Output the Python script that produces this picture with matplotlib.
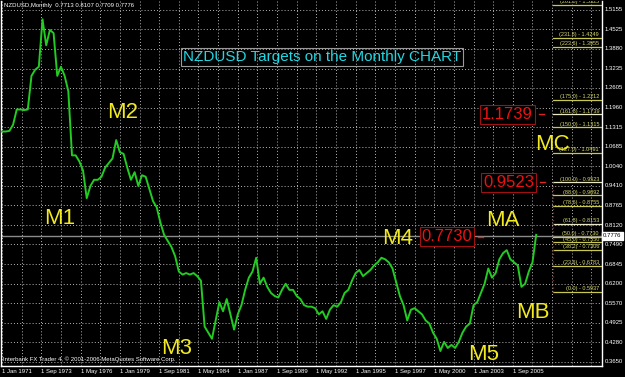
import matplotlib
matplotlib.use("Agg")
import matplotlib.pyplot as plt
import numpy as np
import pandas as pd

# ---------------- data (quarterly closes) ----------------
start_month = "1971-01-01"
close = [
    1.118, 1.118, 1.12, 1.14,      # 1971
    1.19, 1.19, 1.188, 1.19,       # 1972
    1.30, 1.32, 1.33, 1.485,       # 1973
    1.40, 1.45, 1.44, 1.30,        # 1974
    1.33, 1.30, 1.25, 1.04,        # 1975
    1.04, 1.02, 0.99, 0.90,        # 1976
    0.94, 0.96, 0.96, 0.97,        # 1977
    1.00, 1.015, 1.03, 1.09,       # 1978
    1.05, 1.045, 1.00, 0.96,       # 1979
    0.985, 0.94, 0.975, 0.97,      # 1980
    0.93, 0.89, 0.87, 0.82,        # 1981
    0.78, 0.76, 0.74, 0.71,        # 1982
    0.66, 0.65, 0.655, 0.65,       # 1983
    0.655, 0.645, 0.63, 0.48,      # 1984
    0.46, 0.44, 0.50, 0.56,        # 1985
    0.53, 0.57, 0.52, 0.47,        # 1986
    0.52, 0.55, 0.60, 0.64,        # 1987
    0.66, 0.705, 0.62, 0.64,       # 1988
    0.61, 0.59, 0.58, 0.575,       # 1989
    0.60, 0.62, 0.60, 0.60,        # 1990
    0.58, 0.57, 0.55, 0.545,       # 1991
    0.545, 0.54, 0.52, 0.53,       # 1992
    0.505, 0.535, 0.55, 0.545,     # 1993
    0.56, 0.59, 0.60, 0.63,        # 1994
    0.655, 0.665, 0.645, 0.655,    # 1995
    0.665, 0.68, 0.69, 0.705,      # 1996
    0.70, 0.69, 0.67, 0.625,       # 1997
    0.58, 0.55, 0.50, 0.535,       # 1998
    0.54, 0.53, 0.52, 0.50,        # 1999
    0.49, 0.46, 0.44, 0.40,        # 2000
    0.43, 0.41, 0.42, 0.41,        # 2001
    0.43, 0.46, 0.48, 0.49,        # 2002
    0.55, 0.56, 0.59, 0.62,        # 2003
    0.67, 0.64, 0.655, 0.70,       # 2004
    0.72, 0.73, 0.70, 0.69,        # 2005
    0.68, 0.61, 0.62, 0.66,        # 2006
    0.69, 0.78,                    # 2007
]

price_ticks = [1.5155, 1.4525, 1.3880, 1.3235, 1.2605, 1.1960, 1.1315, 1.0685,
               1.0040, 0.9410, 0.8765, 0.8120, 0.7490, 0.6845, 0.6200, 0.5570,
               0.4925, 0.4280, 0.3650]
time_labels = ["1 Jan 1971", "1 Sep 1973", "1 May 1976", "1 Jan 1979", "1 Sep 1981",
               "1 May 1984", "1 Jan 1987", "1 Sep 1989", "1 May 1992", "1 Jan 1995",
               "1 Sep 1997", "1 May 2000", "1 Jan 2003", "1 Sep 2005"]
time_label_dates = ["1971-01", "1973-09", "1976-05", "1979-01", "1981-09", "1984-05",
                    "1987-01", "1989-09", "1992-05", "1995-01", "1997-09", "2000-05",
                    "2003-01", "2005-09"]

fib_levels = ["261.8", "231.8", "223.6", "175.0", "161.8", "150.0", "127.0", "100.0",
              "88.0", "78.6", "61.8", "50.0", "45.0", "38.2", "23.6", "0.0"]
fib_prices = [1.5325, 1.4249, 1.3955, 1.2212, 1.1739, 1.1315, 1.0491, 0.9523,
              0.9092, 0.8755, 0.8153, 0.7730, 0.7550, 0.7306, 0.6783, 0.5937]

target_labels = ["1.1739", "0.9523", "0.7730"]
target_prices = [1.1739, 0.9523, 0.7730]

current_price = 0.7776
header = "NZDUSD,Monthly  0.7713 0.8107 0.7709 0.7776"
title = "NZDUSD Targets on the Monthly CHART"

wave_labels = ["M1", "M2", "M3", "M4", "M5", "MA", "MB", "MC"]

# ---------------- helpers ----------------
W, H = 625, 377
PX_PER_MONTH = 1.228
X0 = 2.0  # pixel of Jan 1971


def month_index(s):
    d = pd.Timestamp(s)
    return (d.year - 1971) * 12 + (d.month - 1)


def px2m(x):
    return (x - X0) / PX_PER_MONTH


def fpx(x, y):
    return x / W, 1 - y / H


dates = pd.date_range(start_month, periods=len(close), freq="QS")
months = np.array([(d.year - 1971) * 12 + d.month - 1 for d in dates])

fig = plt.figure(figsize=(W / 100, H / 100), dpi=100, facecolor="black")
ax = fig.add_axes([1 / W, 11 / H, 601 / W, 365 / H], facecolor="black")
ax.set_xlim(px2m(1), px2m(602))
ax.set_ylim(0.351, 1.5449)
ax.set_xticks([])
ax.set_yticks([])
for s in ["left", "bottom", "right"]:
    ax.spines[s].set_color("white")
    ax.spines[s].set_linewidth(1)
ax.spines["top"].set_visible(False)

grid_kw = dict(color="#b8b8b8", linestyle=(0, (1, 2.2)), linewidth=0.7, zorder=1)
for p in price_ticks:
    ax.axhline(p, **grid_kw)
for m in range(0, 489, 16):
    ax.axvline(m, **grid_kw)

small = dict(family="Liberation Sans", fontsize=4.3, color="white")

# current price line
ax.axhline(current_price, color="#8a8a8a", linewidth=1.0, zorder=2)

# price series
ax.plot(months, close, color="#22cc22", linewidth=1.4, zorder=4)

# fibonacci levels
fx0 = px2m(553)
fx1 = px2m(601)
for lvl, p in zip(fib_levels, fib_prices):
    col = "#e8e8c8" if lvl in ("161.8", "100.0", "61.8") else "#c8c850"
    ax.plot([fx0, fx1], [p, p], color=col, linewidth=0.9, zorder=3)
    ax.text(px2m(599), p + 0.002, f"({lvl}) - {p:.4f}", ha="right", va="bottom",
            family="Liberation Sans", fontsize=4.0, color="#d8d870", zorder=5,
            clip_on=True)
ax.plot([fx0, fx0], [fib_prices[-1], fib_prices[7]], color="#c01010",
        linestyle=(0, (1, 2)), linewidth=0.9, zorder=3)

# red target labels
target_x = [px2m(507.5), px2m(508.5), px2m(447)]
for lab, p, xm in zip(target_labels, target_prices, target_x):
    ax.text(xm, p, lab, ha="center", va="center", family="Liberation Sans",
            fontsize=12, color="#ee1111", zorder=6,
            bbox=dict(boxstyle="square,pad=0.12", facecolor="black",
                      edgecolor="#a01010", linewidth=0.8))
    ax.plot([xm + 31 / PX_PER_MONTH, xm + 36 / PX_PER_MONTH], [p, p],
            color="#dd2222", linewidth=1, zorder=6)

# right price axis labels
for p in price_ticks:
    ax.text(1.004, p, f"{p:.4f}", transform=ax.get_yaxis_transform(), ha="left",
            va="center", clip_on=False, **small)
ax.text(1.002, current_price, f"{current_price:.4f}", transform=ax.get_yaxis_transform(),
        ha="left", va="center", clip_on=False, family="Liberation Sans", fontsize=4.3,
        color="black", bbox=dict(boxstyle="square,pad=0.25", facecolor="white",
                                 edgecolor="white"))

# bottom time labels
for lab, d in zip(time_labels, time_label_dates):
    ax.text(month_index(d + "-01"), -0.016, lab, transform=ax.get_xaxis_transform(),
            ha="left", va="center", clip_on=False, **small)

# header and copyright
fig.text(*fpx(4, 6), header, ha="left", va="center", **small)
fig.text(*fpx(3, 359), "Interbank FX Trader 4, \u00a9 2001-2006 MetaQuotes Software Corp.",
         ha="left", va="center", **small)

# title box
fig.text(*fpx(322, 57), title, ha="center", va="center", family="Liberation Sans",
         fontsize=11, color="#22d8e2",
         bbox=dict(boxstyle="square,pad=0.15", facecolor="none", edgecolor="#9a9a9a",
                   linewidth=0.8))

# wave labels
wave_pos = [(60, 218), (123, 112), (177, 349), (398, 238), (484, 354),
            (503, 221), (533, 313), (552, 145)]
for lab, (x, y) in zip(wave_labels, wave_pos):
    fig.text(*fpx(x, y), lab, ha="center", va="center", family="Liberation Sans",
             fontsize=16, color="#f2ea20", zorder=7)

fig.savefig("out.png", dpi=100, facecolor="black")
